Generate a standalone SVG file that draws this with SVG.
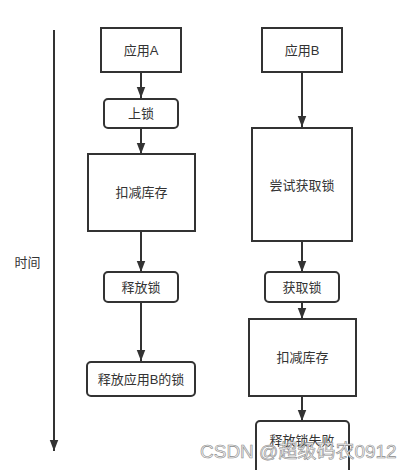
<svg xmlns="http://www.w3.org/2000/svg" width="413" height="470" viewBox="0 0 413 470">
<defs>
<style>
.box{fill:#fff;stroke:#333;stroke-width:2}
.lbl{font-family:"Liberation Sans","Noto Sans CJK SC",sans-serif;font-size:13px;fill:#333;text-anchor:middle;dominant-baseline:central}
.edge{stroke:#333;stroke-width:2;fill:none}
.wm{font-family:"Liberation Sans","Noto Sans CJK SC",sans-serif;font-size:19px;fill:#f2f2f2;stroke:#8a8a8a;stroke-width:0.6}
</style>
<marker id="ah" markerUnits="userSpaceOnUse" markerWidth="12" markerHeight="14" viewBox="0 0 12 14" refX="6" refY="13" orient="auto-start-reverse">
<path d="M1,0 L11,0 L6,13 Z" fill="#333" transform="rotate(-90 6 7)"/>
</marker>
<marker id="arr" markerUnits="userSpaceOnUse" markerWidth="12" markerHeight="14" viewBox="0 0 14 12" refX="13" refY="6" orient="auto">
<path d="M0,1 L13,6 L0,11 Z" fill="#333"/>
</marker>
</defs>
<rect width="413" height="470" fill="#fff"/>
<g id="connectors">
<line class="edge" x1="54" y1="30" x2="54" y2="451" marker-end="url(#arr)"/>
<line class="edge" x1="141" y1="72" x2="141" y2="98" marker-end="url(#arr)"/>
<line class="edge" x1="141" y1="128" x2="141" y2="154" marker-end="url(#arr)"/>
<line class="edge" x1="141" y1="231" x2="141" y2="272" marker-end="url(#arr)"/>
<line class="edge" x1="141" y1="302" x2="141" y2="361" marker-end="url(#arr)"/>
<line class="edge" x1="302" y1="72" x2="302" y2="127" marker-end="url(#arr)"/>
<line class="edge" x1="302" y1="241" x2="302" y2="272" marker-end="url(#arr)"/>
<line class="edge" x1="302" y1="302" x2="302" y2="319" marker-end="url(#arr)"/>
<line class="edge" x1="302" y1="396" x2="302" y2="421" marker-end="url(#arr)"/>
</g>
<g id="time-label"><text class="lbl" x="27.5" y="262">时间</text></g>
<g id="appA"><rect class="box" x="101" y="28" width="80" height="44"/><text class="lbl" x="141" y="50">应用A</text></g>
<g id="lockA"><rect class="box" x="104" y="99" width="74" height="29" rx="4"/><text class="lbl" x="141" y="113.5">上锁</text></g>
<g id="deductA"><rect class="box" x="88" y="154" width="107" height="77"/><text class="lbl" x="141.5" y="192">扣减库存</text></g>
<g id="releaseA"><rect class="box" x="104" y="272" width="74" height="30" rx="4"/><text class="lbl" x="141" y="287">释放锁</text></g>
<g id="releaseB-lock"><rect class="box" x="87" y="362" width="108" height="34" rx="4"/><text class="lbl" x="141" y="379">释放应用B的锁</text></g>
<g id="appB"><rect class="box" x="262" y="28" width="80" height="44"/><text class="lbl" x="302" y="50">应用B</text></g>
<g id="tryB"><rect class="box" x="252" y="128" width="100" height="113"/><text class="lbl" x="302" y="185">尝试获取锁</text></g>
<g id="getB"><rect class="box" x="265" y="272" width="74" height="30" rx="4"/><text class="lbl" x="302" y="287">获取锁</text></g>
<g id="deductB"><rect class="box" x="249" y="319" width="107" height="77"/><text class="lbl" x="302.5" y="357.5">扣减库存</text></g>
<g id="failB"><rect class="box" x="256" y="421" width="93" height="60" rx="4"/><text class="lbl" x="302" y="440">释放锁失败</text></g>
<g id="watermark"><text class="wm" x="200" y="458">CSDN @超级码农0912</text></g>
</svg>
